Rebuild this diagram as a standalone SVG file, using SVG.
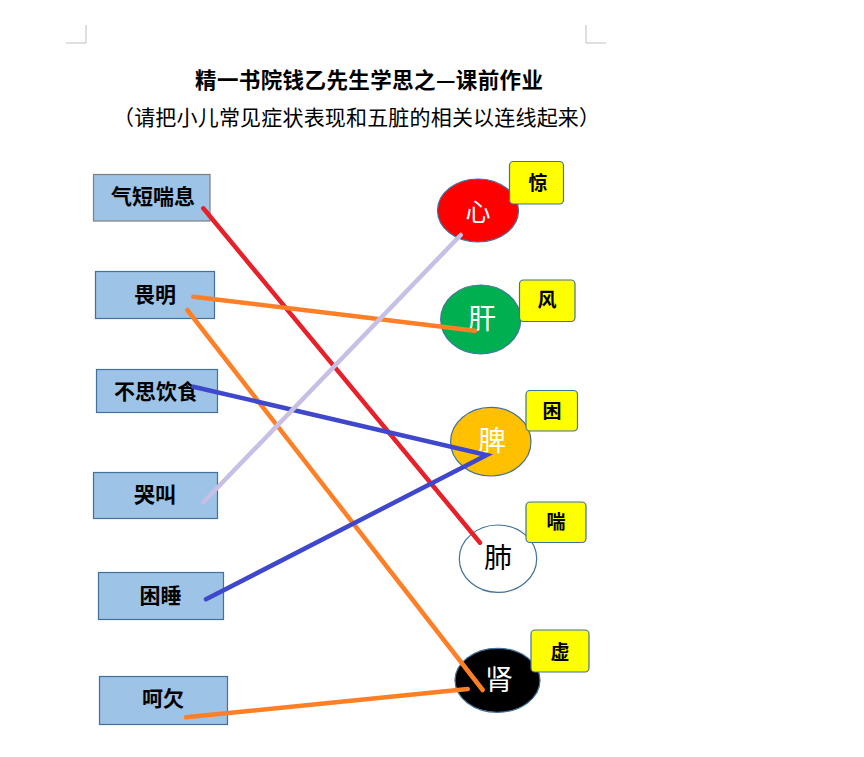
<svg xmlns="http://www.w3.org/2000/svg" width="864" height="757" viewBox="0 0 864 757">
<style>
.bg{fill:#ffffff}
.corner{fill:none;stroke:#bfbfbf;stroke-width:1}
.title{font-family:"Noto Sans CJK SC","Noto Sans",sans-serif;font-weight:700;font-size:21.5px;fill:#000}
.sub{font-family:"Noto Sans CJK SC","Noto Sans",sans-serif;font-size:21px;fill:#000}
.sym rect{fill:#9DC3E6;stroke:#41719C;stroke-width:1.2}
.sym text{font-family:"Noto Sans CJK SC","Noto Sans",sans-serif;font-weight:700;font-size:21px;fill:#000;text-anchor:middle}
.organ ellipse{stroke:#41719C;stroke-width:1.2}
.organ text{font-family:"Noto Sans CJK SC","Noto Sans",sans-serif;font-size:28px;fill:#fff;text-anchor:middle}
.tag rect{fill:#FFFF00;stroke:#41719C;stroke-width:1.2}
.tag text{font-family:"Noto Sans CJK SC","Noto Sans",sans-serif;font-weight:700;font-size:19px;fill:#000;text-anchor:middle}
.conn line,.conn polyline{fill:none;stroke-width:4.5;stroke-linecap:round;stroke-linejoin:miter}
</style>
<rect class="bg" x="0" y="0" width="864" height="757"/>
<path class="corner" d="M86 25V43H66M586 25V43H606"/>
<text class="title" x="195" y="88" textLength="348" lengthAdjust="spacing">精一书院钱乙先生学思之—课前作业</text>
<text class="sub" x="113" y="125" textLength="487" lengthAdjust="spacing">（请把小儿常见症状表现和五脏的相关以连线起来）</text>

<g id="n-qiduan" class="sym"><rect x="93.5" y="174.5" width="116.5" height="46.5" style="stroke:#7f7f7f"/><text x="153" y="204">气短喘息</text></g>
<g id="n-weiming" class="sym"><rect x="95.5" y="271.5" width="119" height="47"/><text x="155" y="302">畏明</text></g>
<g id="n-busi" class="sym"><rect x="96.5" y="369.5" width="121" height="43"/><text x="156" y="399">不思饮食</text></g>
<g id="n-kujiao" class="sym"><rect x="93.5" y="472.5" width="124" height="46"/><text x="155" y="502">哭叫</text></g>
<g id="n-kunshui" class="sym"><rect x="98.5" y="572.5" width="125" height="47"/><text x="160.5" y="603">困睡</text></g>
<g id="n-heqian" class="sym"><rect x="99.5" y="676.5" width="128" height="48"/><text x="163" y="706">呵欠</text></g>

<g id="n-xin" class="organ"><ellipse cx="478" cy="210.5" rx="40.5" ry="31.5" fill="#FF0000"/><text x="478" y="221" style="font-size:25px">心</text></g>
<g id="n-gan" class="organ"><ellipse cx="480.7" cy="319.5" rx="40" ry="34.5" fill="#00B050"/><text x="482" y="329">肝</text></g>
<g id="n-pi" class="organ"><ellipse cx="490.8" cy="441.7" rx="40.2" ry="34.3" fill="#FFC000"/><text x="492" y="451">脾</text></g>
<g id="n-fei" class="organ"><ellipse cx="498" cy="558.7" rx="38.7" ry="33.7" fill="#FFFFFF"/><text x="498" y="568" style="fill:#000">肺</text></g>
<g id="n-shen" class="organ"><ellipse cx="497.5" cy="680.3" rx="42.5" ry="32" fill="#000000"/><text x="499" y="690">肾</text></g>

<g id="t-jing" class="tag"><rect x="509.5" y="161.5" width="54" height="42.5" rx="4"/><text x="538" y="190">惊</text></g>
<g id="t-feng" class="tag"><rect x="519.5" y="280" width="55.5" height="41.5" rx="4"/><text x="547" y="307">风</text></g>
<g id="t-kun" class="tag"><rect x="526" y="390.5" width="51.5" height="40.5" rx="4"/><text x="552" y="418">困</text></g>
<g id="t-chuan" class="tag"><rect x="526" y="502" width="60" height="40.5" rx="4"/><text x="556" y="529">喘</text></g>
<g id="t-xu" class="tag"><rect x="531" y="630" width="58" height="42" rx="4"/><text x="560" y="659">虚</text></g>

<g id="connectors" class="conn">
<line x1="203.3" y1="208.3" x2="480" y2="542.7" stroke="#E8202A"/>
<line x1="193.3" y1="296.7" x2="475" y2="330.7" stroke="#FF7F27"/>
<line x1="187.3" y1="310" x2="482.7" y2="690" stroke="#FF7F27"/>
<polyline points="193.3,386.7 486.7,455 206,599.3" stroke="#3F48CC"/>
<line x1="203.3" y1="502.3" x2="460.7" y2="235" stroke="#C8BFE7"/>
<line x1="186" y1="717.3" x2="467.7" y2="689" stroke="#FF7F27"/>
</g>
</svg>
